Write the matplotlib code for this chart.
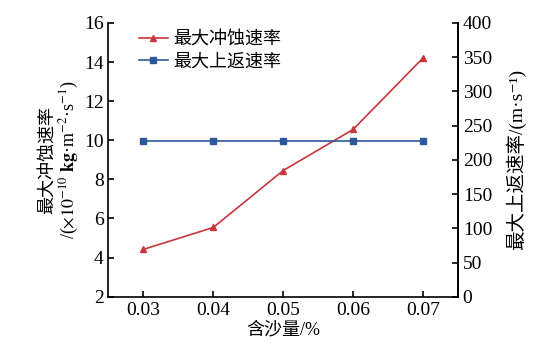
import matplotlib
matplotlib.use("Agg")
import matplotlib.pyplot as plt

plt.rcParams['font.family'] = ['Liberation Serif', 'Noto Sans CJK SC', 'DejaVu Serif']
plt.rcParams['mathtext.fontset'] = 'stix'

# data
sand = [0.03, 0.04, 0.05, 0.06, 0.07]
erosion = [4.42, 5.54, 8.45, 10.55, 14.2]      # 1e-10 kg/(m2 s)
upflow = [228, 228, 228, 228, 228]              # m/s
xticks = [0.03, 0.04, 0.05, 0.06, 0.07]

red = '#c8363c'
blue = '#2c579b'

fig = plt.figure(figsize=(5.53, 3.52), dpi=100)
ax = fig.add_axes([0.196, 0.157, 0.632, 0.778])
ax2 = ax.twinx()

l1, = ax.plot(sand, erosion, color=red, marker='^', ms=5, lw=1.2)
l2, = ax2.plot(sand, upflow, color=blue, marker='s', ms=4, lw=1.2)

ax.set_xlim(0.025, 0.075)
ax.set_ylim(2, 16)
ax2.set_ylim(0, 400)
ax.set_xticks(xticks)
ax.set_xticklabels(['%.2f' % v for v in xticks])
ax.set_yticks(range(2, 17, 2))
ax2.set_yticks(range(0, 401, 50))

for a in (ax, ax2):
    a.spines['top'].set_visible(False)
    for s in a.spines.values():
        s.set_linewidth(1.2)
    a.tick_params(direction='in', length=4, width=1.2, labelsize=14)
ax2.spines['left'].set_visible(False)
ax2.spines['bottom'].set_visible(False)

ax.set_xlabel('含沙量/%', fontsize=13, labelpad=2)
ax.set_ylabel('最大冲蚀速率\n' + r'/($\times10^{-10}$ $\mathbf{kg}$·m$^{-2}$·s$^{-1}$)',
              fontsize=13, linespacing=1.1, labelpad=2)
ax2.set_ylabel('最大上返速率/(m·s⁻¹)', fontsize=14, rotation=90, labelpad=10)

ax.legend([l1, l2], ['最大冲蚀速率', '最大上返速率'], loc='upper left',
          bbox_to_anchor=(0.04, 1.03), frameon=False, fontsize=13,
          handlelength=1.6, handletextpad=0.3, labelspacing=0.3)

fig.savefig('out.png', dpi=100)
